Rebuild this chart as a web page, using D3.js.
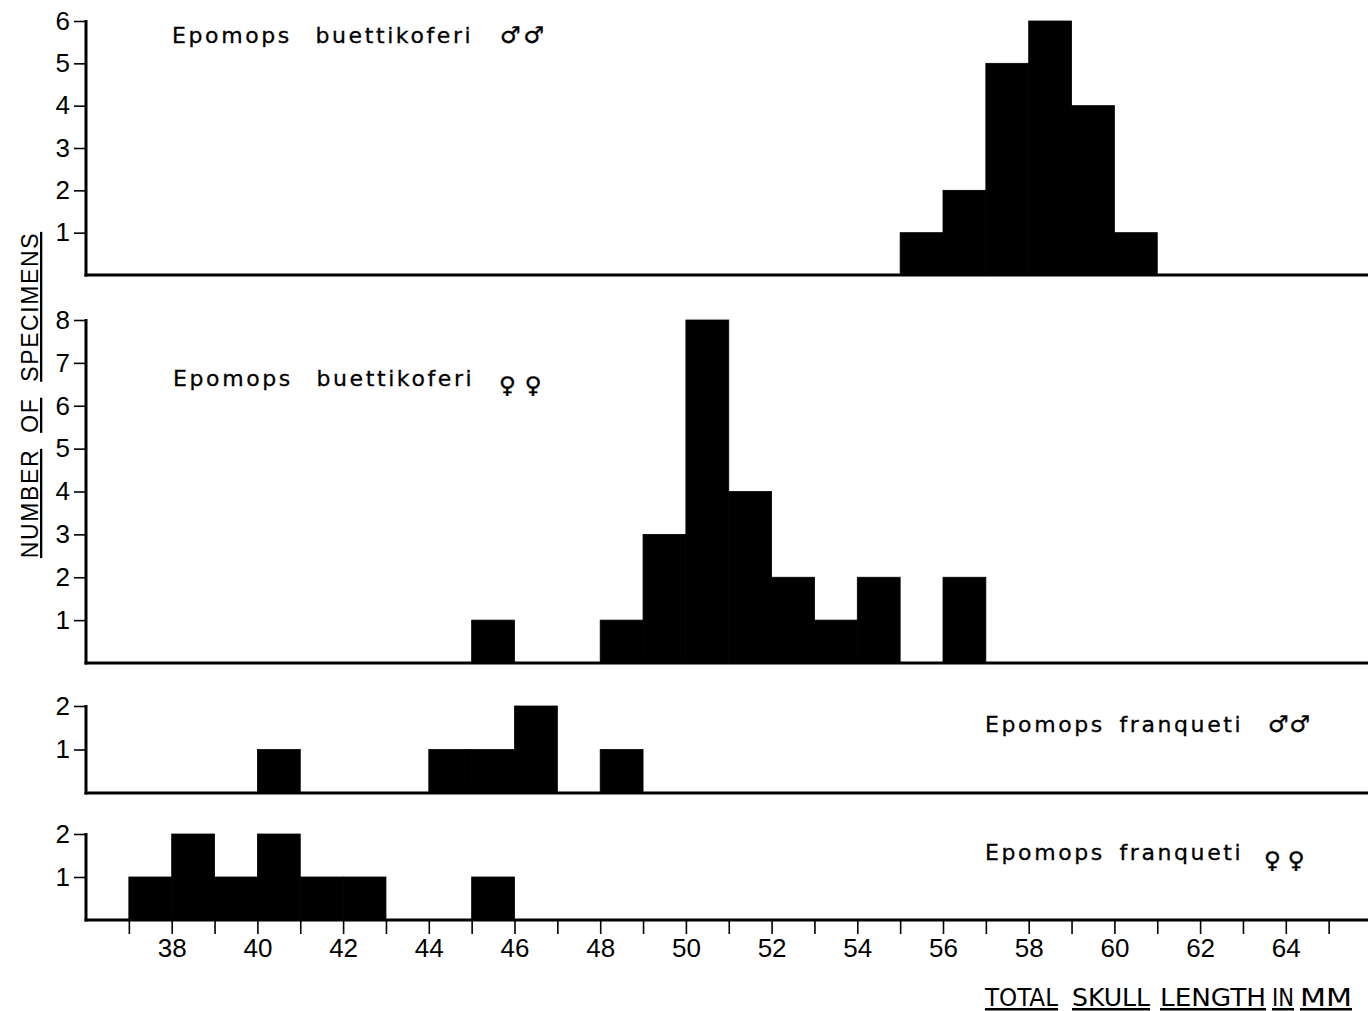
<!DOCTYPE html>
<html>
<head>
<meta charset="utf-8">
<script src="https://cdn.jsdelivr.net/npm/d3@7"></script>
<style>
  html, body { margin: 0; padding: 0; background: #fff; }
  svg { display: block; }
</style>
</head>
<body>
<svg id="chart" width="1368" height="1011"></svg>
<script>
// ---- Data (bins are 1 mm wide, value = bin start in mm) ----
const maleBuettBins   = [55, 56, 57, 58, 59, 60];
const maleBuettCounts = [1, 2, 5, 6, 4, 1];

const femBuettBins    = [45, 48, 49, 50, 51, 52, 53, 54, 56];
const femBuettCounts  = [1, 1, 3, 8, 4, 2, 1, 2, 2];

const maleFranqBins   = [40, 44, 45, 46, 48];
const maleFranqCounts = [1, 1, 1, 2, 1];

const femFranqBins    = [37, 38, 39, 40, 41, 42, 45];
const femFranqCounts  = [1, 2, 1, 2, 1, 1, 1];

const xTickValues = d3.range(37, 66);           // tick marks every mm
const xTickLabels = [38, 40, 42, 44, 46, 48, 50, 52, 54, 56, 58, 60, 62, 64];

const panelNames  = ["Epomops buettikoferi", "Epomops buettikoferi", "Epomops franqueti", "Epomops franqueti"];
const panelSex    = ["♂♂", "♀♀", "♂♂", "♀♀"];
const panelMax    = [6, 8, 2, 2];

const xTitleWords = ["TOTAL", "SKULL", "LENGTH", "IN", "MM"];
const yTitleWords = ["NUMBER", "OF", "SPECIMENS"];

// ---- Layout ----
const svg = d3.select("#chart");
const x = d3.scaleLinear().domain([36, 66]).range([86, 1371.5]);

const panels = [
  { bins: maleBuettBins, counts: maleBuettCounts, max: panelMax[0], range: [275, 21],  name: panelNames[0], sex: panelSex[0], tx: 172, ty: 43,  ws: 14, sx: 500, sy: 43,  sexSpace: 3 },
  { bins: femBuettBins,  counts: femBuettCounts,  max: panelMax[1], range: [663, 320], name: panelNames[1], sex: panelSex[1], tx: 173, ty: 386, ws: 14, sx: 499, sy: 393, sexSpace: 9 },
  { bins: maleFranqBins, counts: maleFranqCounts, max: panelMax[2], range: [793, 706], name: panelNames[2], sex: panelSex[2], tx: 985, ty: 732, ws: 5,  sx: 1268, sy: 732, sexSpace: 1 },
  { bins: femFranqBins,  counts: femFranqCounts,  max: panelMax[3], range: [920, 834], name: panelNames[3], sex: panelSex[3], tx: 985, ty: 860, ws: 5,  sx: 1264, sy: 868, sexSpace: 7 }
];

panels.forEach((p, i) => {
  const y = d3.scaleLinear().domain([0, p.max]).range(p.range);
  const g = svg.append("g");

  // bars
  g.selectAll("rect.bar")
    .data(p.bins.map((b, k) => ({ b, c: p.counts[k] })))
    .join("rect")
    .attr("class", "bar")
    .attr("x", d => x(d.b))
    .attr("width", d => x(d.b + 1) - x(d.b))
    .attr("y", d => y(d.c))
    .attr("height", d => y(0) - y(d.c))
    .attr("fill", "#000")
    .attr("stroke", "#000")
    .attr("stroke-width", 0.8);

  // y axis
  const yAxis = d3.axisLeft(y)
    .tickValues(d3.range(1, p.max + 1))
    .tickSize(12)
    .tickPadding(4)
    .tickFormat(d3.format("d"));
  const ya = g.append("g")
    .attr("transform", `translate(${x(36)},0)`)
    .call(yAxis);
  ya.select(".domain").remove();
  ya.selectAll(".tick line").attr("stroke", "#000").attr("stroke-width", 1.6);
  ya.selectAll(".tick text")
    .attr("font-family", "'Liberation Sans', Arial, sans-serif")
    .attr("font-size", 26)
    .attr("fill", "#000");
  // vertical axis line
  g.append("line")
    .attr("x1", x(36)).attr("x2", x(36))
    .attr("y1", y(p.max) - 1).attr("y2", y(0) + 1.5)
    .attr("stroke", "#000").attr("stroke-width", 3);
  // baseline
  g.append("line")
    .attr("x1", x(36) - 1.5).attr("x2", 1368)
    .attr("y1", y(0)).attr("y2", y(0))
    .attr("stroke", "#000").attr("stroke-width", 3);

  // panel title
  g.append("text")
    .attr("x", p.tx).attr("y", p.ty)
    .attr("font-family", "'DejaVu Sans', sans-serif")
    .attr("font-size", 22)
    .attr("letter-spacing", 2.6)
    .attr("word-spacing", p.ws)
    .attr("fill", "#000")
    .attr("stroke", "#000")
    .attr("stroke-width", 0.3)
    .text(p.name);
  g.append("text")
    .attr("x", p.sx).attr("y", p.sy)
    .attr("font-family", "'DejaVu Sans', sans-serif")
    .attr("font-size", 23)
    .attr("letter-spacing", p.sexSpace)
    .attr("fill", "#000")
    .attr("stroke", "#000")
    .attr("stroke-width", 0.4)
    .text(p.sex);

  // bottom axis on last panel
  if (i === panels.length - 1) {
    const xAxis = d3.axisBottom(x)
      .tickValues(xTickValues)
      .tickSize(14)
      .tickPadding(5)
      .tickFormat(d => xTickLabels.includes(d) ? d : "");
    const xa = g.append("g")
      .attr("transform", `translate(0,${y(0)})`)
      .call(xAxis);
    xa.select(".domain").remove();
    xa.selectAll(".tick line").attr("stroke", "#000").attr("stroke-width", 1.6);
    xa.selectAll(".tick text")
      .attr("font-family", "'Liberation Sans', Arial, sans-serif")
      .attr("font-size", 26)
      .attr("fill", "#000");
  }
});

// ---- Y axis title ----
(function () {
  const t = svg.append("text")
    .attr("font-family", "'Liberation Sans', Arial, sans-serif")
    .attr("font-size", 23)
    .attr("letter-spacing", 1.6)
    .attr("fill", "#000")
    .attr("text-anchor", "middle")
    .attr("transform", "translate(38,395) rotate(-90)")
    .style("white-space", "pre");
  yTitleWords.forEach((w, k) => {
    if (k > 0) t.append("tspan").text("  ");
    t.append("tspan").style("text-decoration", "underline").text(w);
  });
})();

// ---- X axis title: each word placed & stretched to its span ----
const xTitleStart = [985, 1072, 1160, 1272, 1300];
const xTitleEnd   = [1058, 1150, 1266, 1294, 1352];
svg.append("g").selectAll("text")
  .data(xTitleWords.map((w, k) => ({ w, a: xTitleStart[k], b: xTitleEnd[k] })))
  .join("text")
  .attr("x", d => d.a)
  .attr("y", 1006)
  .attr("textLength", d => d.b - d.a)
  .attr("lengthAdjust", "spacingAndGlyphs")
  .attr("font-family", "'DejaVu Sans Condensed', 'DejaVu Sans', sans-serif")
  .attr("font-size", 25)
  .attr("fill", "#000")
  .style("text-decoration", "underline")
  .text(d => d.w);
</script>
</body>
</html>
